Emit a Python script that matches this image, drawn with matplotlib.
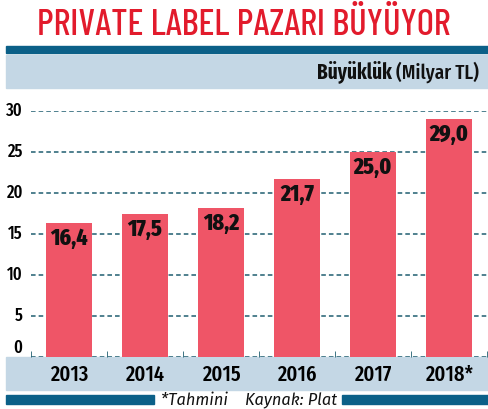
import matplotlib
matplotlib.use("Agg")
import matplotlib.pyplot as plt
from matplotlib.patches import Rectangle

years = ["2013", "2014", "2015", "2016", "2017", "2018*"]
values = [16.4, 17.5, 18.2, 21.7, 25.0, 29.0]
labels = ["16,4", "17,5", "18,2", "21,7", "25,0", "29,0"]
yticks = [0, 5, 10, 15, 20, 25, 30]

W, H = 488, 409
TITLE_F = ["Barlow Condensed", "DejaVu Sans"]
COND = ["Fira Sans Extra Condensed", "DejaVu Sans"]
bar_col = "#ef5567"
red = "#e21b2c"
dark_blue = "#0b6088"
light_blue = "#c4d7e5"
grid_col = "#1f5e70"

def px(x0, y0, w, h):
    # pixel box (top-left origin) -> figure fractions
    return [x0 / W, 1 - (y0 + h) / H, w / W, h / H]

fig = plt.figure(figsize=(W / 100, H / 100), dpi=100)

# header/footer bands
for box, c in [((6, 46, 482, 7), dark_blue), ((6, 55, 482, 33), light_blue),
               ((6, 357, 482, 33), light_blue), ((6, 395, 148, 9), dark_blue),
               ((342, 395, 146, 9), dark_blue)]:
    b = px(*box)
    fig.patches.append(Rectangle((b[0], b[1]), b[2], b[3], transform=fig.transFigure,
                                 color=c, zorder=-5))

def fit(t, width):
    fig.canvas.draw()
    w = t.get_window_extent().width
    t.set_fontsize(t.get_fontsize() * width / w)

title = fig.text(0.5, 1 - 25 / H, "PRIVATE LABEL PAZARI BÜYÜYOR", ha="center",
                 va="center", color=red, fontsize=28, family=TITLE_F, fontweight=500)
fit(title, 413)

t2 = fig.text(479 / W, 1 - 72 / H, "(Milyar TL)", ha="right", va="center",
              fontsize=15, family=COND, fontweight=500, color="#111111")
fig.canvas.draw()
bb = t2.get_window_extent()
fig.text((bb.x0 - 4) / W, 1 - 72 / H, "Büyüklük", ha="right", va="center",
         fontsize=15, family=COND, fontweight="bold", color="#111111")

fig.text(249 / W, 1 - 400 / H, "*Tahmini    Kaynak: Plat", ha="center", va="center",
         fontsize=11.8, style="italic", family=["Fira Sans", "DejaVu Sans"],
         color="#111111")

ax = fig.add_axes(px(31, 111, 456, 246))
ax.set_facecolor("none")
x = range(len(years))
ax.bar(x, values, width=0.6, color=bar_col, zorder=2)
for i, (v, s) in enumerate(zip(values, labels)):
    ax.text(i, v - 1.9, s, ha="center", va="center", fontsize=17, fontweight=800,
            family=COND, color="#111111", zorder=3)

ax.set_xlim(-0.5, 5.5)
ax.set_ylim(0, 30)
ax.set_yticks(yticks)
ax.set_yticklabels([str(t) for t in yticks], fontsize=13, family=COND, fontweight=500)
for lab in ax.get_yticklabels():
    lab.set_va("bottom" if lab.get_text() == "0" else "center")
ax.yaxis.grid(True, linestyle=(0, (3, 2)), color=grid_col, linewidth=1.1, zorder=1)
ax.set_axisbelow(True)
ax.tick_params(axis="y", length=0, pad=6)
ax.set_xticks(list(x))
ax.set_xticklabels(years, fontsize=16, family=COND, fontweight=500)
ax.tick_params(axis="x", length=0, pad=5)
ax.set_xticks([i - 0.5 for i in range(7)], minor=True)
ax.tick_params(axis="x", which="minor", direction="in", length=4, color=grid_col)
for s in ax.spines.values():
    s.set_visible(False)

fig.savefig("out.png", dpi=100)
